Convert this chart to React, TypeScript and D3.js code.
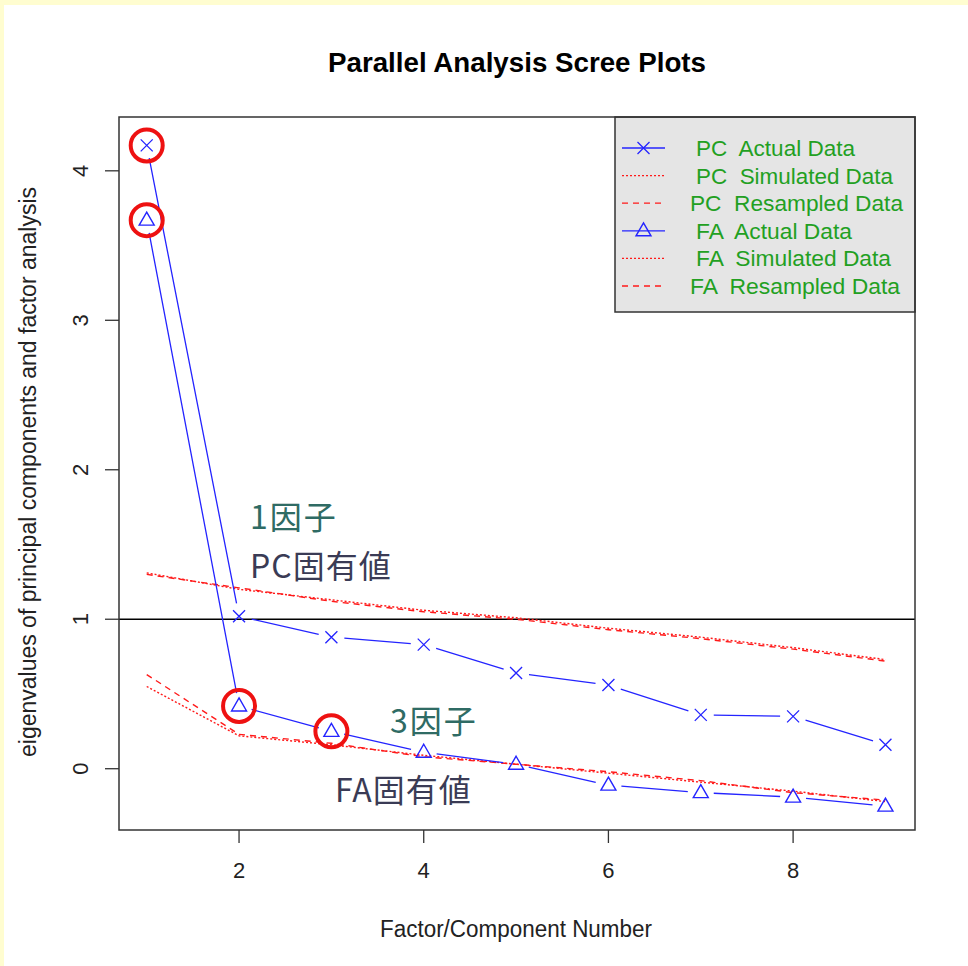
import * as d3 from "d3";
import React from "react";

// factor / component numbers
const factors = [1, 2, 3, 4, 5, 6, 7, 8, 9];

// eigenvalues
const pcActual = [4.17, 1.02, 0.88, 0.83, 0.64, 0.56, 0.36, 0.35, 0.16];
const pcSimulated = [1.31, 1.2, 1.13, 1.06, 1.01, 0.94, 0.88, 0.81, 0.73];
const pcResampled = [1.3, 1.21, 1.12, 1.05, 1.0, 0.93, 0.87, 0.8, 0.72];
const faActual = [3.67, 0.42, 0.25, 0.11, 0.03, -0.11, -0.16, -0.19, -0.25];
const faSimulated = [0.55, 0.22, 0.16, 0.09, 0.03, -0.03, -0.09, -0.15, -0.22];
const faResampled = [0.63, 0.23, 0.17, 0.08, 0.03, -0.02, -0.08, -0.16, -0.21];

const xTicks = [2, 4, 6, 8];
const yTicks = [0, 1, 2, 3, 4];

const legendLabels = [
  "PC  Actual Data",
  "PC  Simulated Data",
  "PC  Resampled Data",
  "FA  Actual Data",
  "FA  Simulated Data",
  "FA  Resampled Data",
];

// highlighted points (series, factor)
const highlights: [string, number][] = [
  ["pc", 1],
  ["fa", 1],
  ["fa", 2],
  ["fa", 3],
];

const W = 968;
const H = 966;
const plot = { left: 119, right: 915, top: 117, bottom: 830 };
const BLUE = "#2424ff";
const RED = "#ff1a1a";
const SANS = "'Liberation Sans', Arial, sans-serif";
const CJK = "'Noto Sans CJK JP', sans-serif";

const x = d3.scaleLinear().domain([0.7, 9.32]).range([plot.left, plot.right]);
const y = d3.scaleLinear().domain([-0.41, 4.36]).range([plot.bottom, plot.top]);

const redLine = d3
  .line<number>()
  .x((_, i) => x(factors[i]))
  .y((d) => y(d));

// type="b" style: segments with gaps around the markers
function gapSegments(vals: number[], gap: number) {
  const pts = vals.map((v, i) => [x(factors[i]), y(v)]);
  const segs: string[] = [];
  for (let i = 0; i < pts.length - 1; i++) {
    const [x0, y0] = pts[i];
    const [x1, y1] = pts[i + 1];
    const len = Math.hypot(x1 - x0, y1 - y0);
    if (len <= gap * 2) continue;
    const ux = (x1 - x0) / len;
    const uy = (y1 - y0) / len;
    segs.push(
      `M${x0 + ux * gap},${y0 + uy * gap}L${x1 - ux * gap},${y1 - uy * gap}`
    );
  }
  return segs.join("");
}

const Cross = ({ cx, cy }: { cx: number; cy: number }) => (
  <path
    d={`M${cx - 6},${cy - 6}L${cx + 6},${cy + 6}M${cx - 6},${cy + 6}L${cx + 6},${cy - 6}`}
    stroke={BLUE}
    strokeWidth={1.3}
    fill="none"
  />
);

const Tri = ({ cx, cy }: { cx: number; cy: number }) => (
  <path
    d={`M${cx},${cy - 8}L${cx + 7.5},${cy + 5}L${cx - 7.5},${cy + 5}Z`}
    stroke={BLUE}
    strokeWidth={1.4}
    fill="none"
  />
);

export default function App() {
  const legendX = 615;
  const legendY = plot.top;
  const rowY = (i: number) => 148 + i * 27.6;
  const textX = [696, 696, 690, 696, 696, 690];
  const textW = [159, 197, 213, 156, 195, 210];

  return (
    <svg
      width={W}
      height={H}
      style={{ position: "absolute", left: 0, top: 0 }}
      fontFamily={SANS}
    >
      <rect width={W} height={H} fill="#fffdd0" />
      <rect x={4} y={5} width={W - 4} height={H - 5} fill="#ffffff" />

      <text
        x={517}
        y={72}
        textAnchor="middle"
        fontSize={27}
        fontWeight="bold"
        fill="#000"
        textLength={378}
        lengthAdjust="spacingAndGlyphs"
      >
        Parallel Analysis Scree Plots
      </text>

      {/* reference line at eigenvalue 1 */}
      <line
        x1={plot.left}
        x2={plot.right}
        y1={y(1)}
        y2={y(1)}
        stroke="#000"
        strokeWidth={1.4}
      />

      {/* simulated / resampled */}
      <path d={redLine(pcSimulated) || ""} fill="none" stroke={RED} strokeWidth={1.4} strokeDasharray="2,2" />
      <path d={redLine(pcResampled) || ""} fill="none" stroke={RED} strokeWidth={1.4} strokeDasharray="6,5" />
      <path d={redLine(faSimulated) || ""} fill="none" stroke={RED} strokeWidth={1.4} strokeDasharray="2,2" />
      <path d={redLine(faResampled) || ""} fill="none" stroke={RED} strokeWidth={1.4} strokeDasharray="6,5" />

      {/* actual data */}
      <path d={gapSegments(pcActual, 13)} fill="none" stroke={BLUE} strokeWidth={1.3} />
      <path d={gapSegments(faActual, 13)} fill="none" stroke={BLUE} strokeWidth={1.3} />
      {pcActual.map((v, i) => (
        <Cross key={"pc" + i} cx={x(factors[i])} cy={y(v)} />
      ))}
      {faActual.map((v, i) => (
        <Tri key={"fa" + i} cx={x(factors[i])} cy={y(v)} />
      ))}

      {/* highlight circles */}
      {highlights.map(([s, f], i) => {
        const v = (s === "pc" ? pcActual : faActual)[f - 1];
        return (
          <circle
            key={"h" + i}
            cx={x(f)}
            cy={y(v)}
            r={16}
            fill="none"
            stroke="#ee1111"
            strokeWidth={4}
          />
        );
      })}

      {/* annotations */}
      <g fontFamily={CJK} fontSize={32}>
        <text x={250} y={529} fill="#2f6b64" letterSpacing={2}>1因子</text>
        <text x={250} y={578} fill="#3a3b55" letterSpacing={1}>PC固有値</text>
        <text x={390} y={733} fill="#2f6b64" letterSpacing={2}>3因子</text>
        <text x={335} y={802} fill="#3a3b55" letterSpacing={1}>FA固有値</text>
      </g>

      {/* legend */}
      <rect
        x={legendX}
        y={legendY}
        width={plot.right - legendX}
        height={312 - legendY}
        fill="#e5e5e5"
        stroke="#333"
        strokeWidth={1.5}
      />
      {legendLabels.map((lab, i) => {
        const ly = rowY(i);
        const kind = i % 3;
        return (
          <g key={"lg" + i}>
            <line
              x1={622}
              x2={665}
              y1={ly}
              y2={ly}
              stroke={kind === 0 ? BLUE : RED}
              strokeWidth={1.3}
              strokeDasharray={kind === 1 ? "2,2" : kind === 2 ? "6,5" : undefined}
            />
            {kind === 0 && (i === 0 ? <Cross cx={643.5} cy={ly} /> : <Tri cx={643.5} cy={ly} />)}
            <text
              x={textX[i]}
              y={ly + 8}
              fontSize={22}
              fill="#22a022"
              style={{ whiteSpace: "pre" }}
              textLength={textW[i]}
              lengthAdjust="spacingAndGlyphs"
            >
              {lab}
            </text>
          </g>
        );
      })}

      {/* plot frame */}
      <rect
        x={plot.left}
        y={plot.top}
        width={plot.right - plot.left}
        height={plot.bottom - plot.top}
        fill="none"
        stroke="#333"
        strokeWidth={1.5}
      />

      {/* x axis */}
      {xTicks.map((t) => (
        <g key={"xt" + t}>
          <line x1={x(t)} x2={x(t)} y1={plot.bottom} y2={plot.bottom + 13} stroke="#333" strokeWidth={1.3} />
          <text x={x(t)} y={878} textAnchor="middle" fontSize={22} fill="#222">
            {t}
          </text>
        </g>
      ))}
      <text
        x={516}
        y={937}
        textAnchor="middle"
        fontSize={23}
        fill="#222"
        textLength={272}
        lengthAdjust="spacingAndGlyphs"
      >
        Factor/Component Number
      </text>

      {/* y axis */}
      {yTicks.map((t) => (
        <g key={"yt" + t}>
          <line x1={plot.left - 14} x2={plot.left} y1={y(t)} y2={y(t)} stroke="#333" strokeWidth={1.3} />
          <text
            transform={`translate(88,${y(t)}) rotate(-90)`}
            textAnchor="middle"
            fontSize={22}
            fill="#222"
          >
            {t}
          </text>
        </g>
      ))}
      <text
        transform={`translate(36,472) rotate(-90)`}
        textAnchor="middle"
        fontSize={23}
        fill="#222"
        textLength={570}
        lengthAdjust="spacingAndGlyphs"
      >
        eigenvalues of principal components and factor analysis
      </text>
    </svg>
  );
}
